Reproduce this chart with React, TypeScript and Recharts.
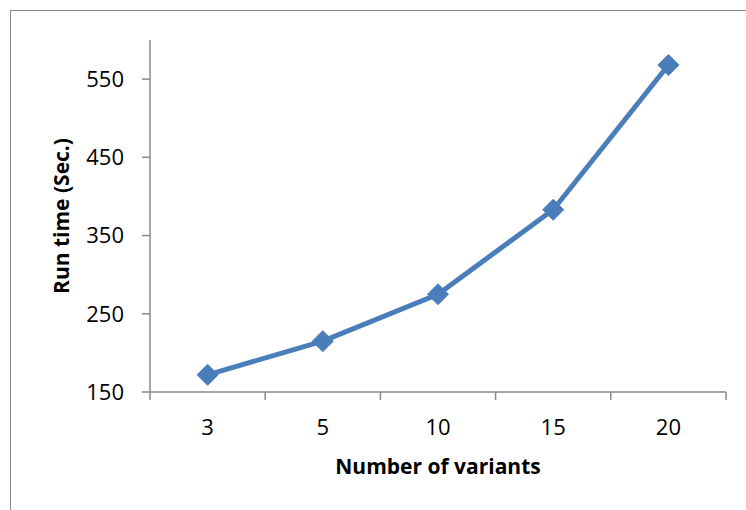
import { Label, Line, LineChart, XAxis, YAxis } from 'recharts'

const variantCounts = ['3', '5', '10', '15', '20']
const runTimes = [172, 215, 275, 383, 568]
const yTicks = [150, 250, 350, 450, 550]

const axisGray = '#898989'
const lineBlue = '#4A7EBB'
const font = '"Open Sans", sans-serif'

// categories sit at the middle of each slot; slot edges get the tick marks
const data = variantCounts.map((variants, i) => ({
  pos: i + 0.5,
  variants,
  runTime: runTimes[i]
}))
const xTicks = variantCounts.flatMap((_, i) => [i, i + 0.5]).concat(variantCounts.length)

function CategoryTick(props: any) {
  const { x, y, payload } = props
  const v = payload.value as number
  if (Number.isInteger(v)) {
    return <line x1={x} x2={x} y1={y} y2={y + 8} stroke={axisGray} strokeWidth={1.5} />
  }
  return (
    <text x={x} y={y + 43} textAnchor="middle" fill="#000" fontSize={22} fontFamily={font}>
      {variantCounts[Math.floor(v)]}
    </text>
  )
}

function Diamond(props: any) {
  const { cx, cy } = props
  const r = 10.5
  return (
    <path
      d={`M${cx},${cy - r} L${cx + r},${cy} L${cx},${cy + r} L${cx - r},${cy} Z`}
      fill={lineBlue}
      stroke={lineBlue}
      strokeWidth={1}
      strokeLinejoin="round"
    />
  )
}

export default function App() {
  return (
    <div
      style={{
        position: 'fixed',
        left: 0,
        top: 0,
        width: 746,
        height: 510,
        overflow: 'hidden',
        background: '#fff'
      }}
    >
      <div
        style={{
          position: 'absolute',
          left: 10,
          top: 10,
          width: 800,
          height: 600,
          border: `1.5px solid ${axisGray}`
        }}
      />
      <div style={{ position: 'absolute', left: 0, top: 0 }}>
        <LineChart
          width={746}
          height={510}
          data={data}
          margin={{ top: 40, right: 20, bottom: 88, left: 90 }}
        >
          <XAxis
            dataKey="pos"
            type="number"
            domain={[0, variantCounts.length]}
            ticks={xTicks}
            interval={0}
            height={30}
            tickSize={0}
            tickMargin={0}
            tickLine={false}
            tick={<CategoryTick />}
            axisLine={{ stroke: axisGray, strokeWidth: 1.5 }}
          >
            <Label
              value="Number of variants"
              position="bottom"
              offset={37}
              fill="#000"
              fontSize={21}
              fontWeight="bold"
              fontFamily={font}
            />
          </XAxis>
          <YAxis
            type="number"
            domain={[150, 600]}
            ticks={yTicks}
            interval={0}
            width={60}
            tickSize={8}
            tickMargin={18}
            tickLine={{ stroke: axisGray, strokeWidth: 1.5 }}
            axisLine={{ stroke: axisGray, strokeWidth: 1.5 }}
            tick={{ fill: '#000', fontSize: 22, fontFamily: font }}
          >
            <Label
              value="Run time (Sec.)"
              angle={-90}
              position="left"
              offset={28}
              fill="#000"
              fontSize={21}
              fontWeight="bold"
              fontFamily={font}
              style={{ textAnchor: 'middle' }}
            />
          </YAxis>
          <Line
            dataKey="runTime"
            stroke={lineBlue}
            strokeWidth={5}
            dot={<Diamond />}
            activeDot={false}
            isAnimationActive={false}
          />
        </LineChart>
      </div>
    </div>
  )
}
